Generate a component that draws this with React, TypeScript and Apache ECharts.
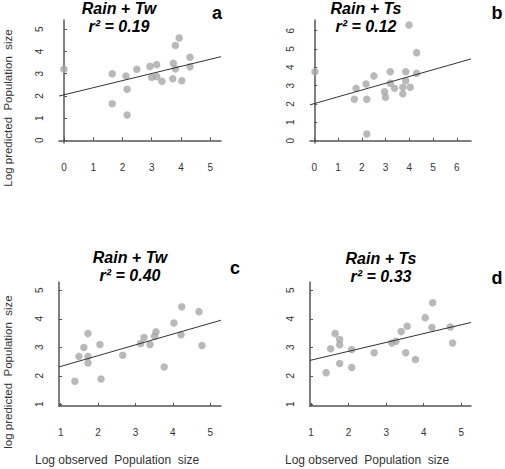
import { useEffect, useRef } from "react";
import * as echarts from "echarts";

// ---- data ----
const obsA = [0, 1.65, 1.65, 2.12, 2.16, 2.16, 2.49, 2.94, 3.0, 3.17, 3.17, 3.35, 3.74, 3.72, 3.81, 3.81, 3.94, 4.03, 4.31, 4.31];
const predA = [3.2, 3.0, 1.65, 2.9, 2.3, 1.14, 3.2, 3.33, 2.84, 3.41, 2.87, 2.66, 3.47, 2.77, 3.22, 4.27, 4.61, 2.68, 3.74, 3.31];

const obsB = [0.03, 1.69, 1.76, 2.18, 2.21, 2.21, 2.51, 2.96, 3.0, 3.2, 3.2, 3.38, 3.73, 3.73, 3.85, 3.85, 3.99, 4.04, 4.31, 4.31];
const predB = [3.76, 2.25, 2.85, 3.09, 2.25, 0.36, 3.53, 2.67, 2.36, 3.76, 3.13, 2.85, 2.91, 2.55, 3.27, 3.76, 6.31, 2.91, 4.8, 3.67];

const obsC = [1.38, 1.49, 1.62, 1.73, 1.73, 1.73, 2.05, 2.08, 2.66, 3.14, 3.23, 3.39, 3.51, 3.55, 3.77, 4.03, 4.22, 4.24, 4.7, 4.78];
const predC = [1.81, 2.68, 2.99, 3.48, 2.68, 2.45, 3.1, 1.89, 2.72, 3.13, 3.34, 3.1, 3.39, 3.54, 2.31, 3.85, 3.44, 4.42, 4.25, 3.06];

const obsD = [1.4, 1.52, 1.64, 1.76, 1.76, 1.76, 2.08, 2.08, 2.68, 3.15, 3.26, 3.4, 3.52, 3.56, 3.78, 4.04, 4.22, 4.24, 4.71, 4.77];
const predD = [2.11, 2.95, 3.48, 3.27, 3.09, 2.43, 2.92, 2.29, 2.81, 3.15, 3.21, 3.55, 2.81, 3.74, 2.57, 4.04, 3.69, 4.56, 3.71, 3.15];

// regression lines [intercept, slope]
const fitA = [2.05, 0.32];
const fitB = [2.02, 0.369];
const fitC = [1.95, 0.378];
const fitD = [2.24, 0.31];

const titles = ["Rain + Tw", "Rain + Ts", "Rain + Tw", "Rain + Ts"];
const r2 = ["0.19", "0.12", "0.40", "0.33"];
const letters = ["a", "b", "c", "d"];

const ticksTop = [0, 1, 2, 3, 4, 5];
const ticksTopB = [0, 1, 2, 3, 4, 5, 6];
const ticksBottom = [1, 2, 3, 4, 5];

const yTitleTop = "Log predicted  Population  size";
const yTitleBottom = "log predicted  Population  size";
const xTitle = "Log observed  Population  size";

const FONT = "'Liberation Sans', Arial, Helvetica, sans-serif";

const panels = [
  { obs: obsA, pred: predA, fit: fitA, xMin: -0.17, xMax: 5.37, yMin: -0.12, yMax: 5.42, xTicks: ticksTop, yTicks: ticksTop,
    grid: { left: 59, top: 20, width: 162, height: 123 }, xMargin: 19, title: [119, 17], letter: [217, 13] },
  { obs: obsB, pred: predB, fit: fitB, xMin: -0.18, xMax: 6.6, yMin: -0.13, yMax: 6.58, xTicks: ticksTopB, yTicks: ticksTopB,
    grid: { left: 310, top: 20, width: 161, height: 123 }, xMargin: 19, title: [366, 17], letter: [497, 13] },
  { obs: obsC, pred: predC, fit: fitC, xMin: 0.955, xMax: 5.29, yMin: 0.94, yMax: 5.29, xTicks: ticksBottom, yTicks: ticksBottom,
    grid: { left: 59, top: 282, width: 162, height: 124 }, xMargin: 21, title: [130, 266], letter: [235, 268] },
  { obs: obsD, pred: predD, fit: fitD, xMin: 0.97, xMax: 5.26, yMin: 0.94, yMax: 5.29, xTicks: ticksBottom, yTicks: ticksBottom,
    grid: { left: 310, top: 282, width: 161, height: 124 }, xMargin: 21, title: [381, 267], letter: [497, 278] },
];

export default function App() {
  const ref = useRef<HTMLDivElement>(null);

  useEffect(() => {
    if (!ref.current) return;
    const chart = echarts.init(ref.current, undefined, { renderer: "svg" });

    const axisLine = { show: true, lineStyle: { color: "#555", width: 1.5 } };
    const grid: any[] = [];
    const xAxis: any[] = [];
    const yAxis: any[] = [];
    const series: any[] = [];
    const graphic: any[] = [];

    panels.forEach((p, i) => {
      grid.push({ ...p.grid, containLabel: false });
      xAxis.push({
        type: "value", gridIndex: i, min: p.xMin, max: p.xMax,
        axisLine, splitLine: { show: false },
        axisTick: { show: true, inside: true, length: 3, customValues: p.xTicks, lineStyle: { color: "#555" } },
        axisLabel: { customValues: p.xTicks, margin: p.xMargin, color: "#333", fontSize: 10, fontFamily: FONT },
      });
      yAxis.push({
        type: "value", gridIndex: i, min: p.yMin, max: p.yMax,
        axisLine, splitLine: { show: false },
        axisTick: { show: true, inside: true, length: 3, customValues: p.yTicks, lineStyle: { color: "#555" } },
        axisLabel: { customValues: p.yTicks, rotate: 90, margin: 15, color: "#333", fontSize: 10, fontFamily: FONT },
      });
      series.push({
        type: "scatter", xAxisIndex: i, yAxisIndex: i, symbolSize: 7.5,
        itemStyle: { color: "#a8a8a8" },
        data: p.obs.map((x, k) => [x, p.pred[k]]),
        z: 2,
      });
      series.push({
        type: "line", xAxisIndex: i, yAxisIndex: i, symbol: "none",
        lineStyle: { color: "#333", width: 1 },
        data: [
          [p.xMin, p.fit[0] + p.fit[1] * p.xMin],
          [p.xMax, p.fit[0] + p.fit[1] * p.xMax],
        ],
        z: 3,
      });
      graphic.push({
        type: "text", x: p.title[0], y: p.title[1],
        style: {
          text: `${titles[i]}\nr² = ${r2[i]}`, align: "center", verticalAlign: "middle",
          font: `italic bold 16px ${FONT}`, lineHeight: 18, fill: "#000",
        },
      });
      graphic.push({
        type: "text", x: p.letter[0], y: p.letter[1],
        style: { text: letters[i], align: "center", verticalAlign: "middle", font: `bold 18px ${FONT}`, fill: "#000" },
      });
    });

    graphic.push({
      type: "text", x: 8, y: 108, rotation: Math.PI / 2,
      style: { text: yTitleTop, align: "center", verticalAlign: "middle", font: `11.5px ${FONT}`, fill: "#333" },
    });
    graphic.push({
      type: "text", x: 8, y: 372, rotation: Math.PI / 2,
      style: { text: yTitleBottom, align: "center", verticalAlign: "middle", font: `11.5px ${FONT}`, fill: "#333" },
    });
    graphic.push({
      type: "text", x: 117, y: 460,
      style: { text: xTitle, align: "center", verticalAlign: "middle", font: `12px ${FONT}`, fill: "#333" },
    });
    graphic.push({
      type: "text", x: 367, y: 460,
      style: { text: xTitle, align: "center", verticalAlign: "middle", font: `12px ${FONT}`, fill: "#333" },
    });

    chart.setOption({
      animation: false,
      backgroundColor: "#fff",
      grid, xAxis, yAxis, series, graphic,
    });

    return () => chart.dispose();
  }, []);

  return (
    <div
      ref={ref}
      style={{ position: "fixed", left: 0, top: 0, width: 505, height: 469 }}
    />
  );
}
